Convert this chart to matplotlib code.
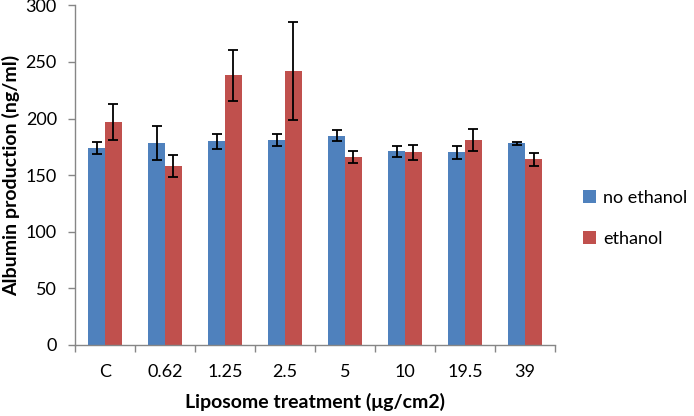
import numpy as np
import matplotlib.pyplot as plt
from matplotlib.ticker import MultipleLocator, FixedLocator

plt.rcParams['font.family'] = ['Lato', 'DejaVu Sans']

# data
categories = ['C', '0.62', '1.25', '2.5', '5', '10', '19.5', '39']
no_ethanol = [174, 178, 180, 181, 185, 171, 170, 178]
no_ethanol_err = [5, 15, 6.5, 5.5, 4.5, 4.7, 5.8, 1.2]
ethanol = [197, 158, 238, 242, 166, 170, 181, 164]
ethanol_err = [16, 9.5, 22.5, 43, 5.5, 6.3, 10, 5.6]

blue = '#4F81BD'
red = '#C0504D'
gray = '#868686'

fig = plt.figure(figsize=(6.94, 4.16), dpi=100)
ax = fig.add_axes([0.108, 0.1707, 0.692, 0.8166])

x = np.arange(len(categories))
w = 0.278
err_kw = dict(ecolor='black', elinewidth=1.3, capsize=3.5, capthick=1.3)
ax.bar(x - w / 2, no_ethanol, w, yerr=no_ethanol_err, color=blue,
       label='no ethanol', error_kw=err_kw)
ax.bar(x + w / 2, ethanol, w, yerr=ethanol_err, color=red,
       label='ethanol', error_kw=err_kw)

ax.set_xlim(-0.5, len(categories) - 0.5)
ax.set_ylim(0, 300)
ax.yaxis.set_major_locator(MultipleLocator(50))

# category labels centred, ticks on the boundaries
ax.set_xticks(x)
ax.set_xticklabels(categories, fontsize=13)
ax.tick_params(axis='x', which='major', length=0, pad=14)
ax.xaxis.set_minor_locator(FixedLocator(np.arange(-0.5, len(categories), 1)))
ax.tick_params(axis='x', which='minor', length=5, color=gray, width=1)
ax.tick_params(axis='y', length=5, color=gray, width=1, labelsize=13, pad=8)

for s in ['top', 'right']:
    ax.spines[s].set_visible(False)
for s in ['left', 'bottom']:
    ax.spines[s].set_color(gray)
    ax.spines[s].set_linewidth(1)

ax.set_xlabel('Liposome treatment (μg/cm2)', fontsize=14, fontweight='bold', labelpad=9)
ax.set_ylabel('Albumin production (ng/ml)', fontsize=14, fontweight='bold', labelpad=4)

fig.legend(loc='center left', bbox_to_anchor=(0.817, 0.475), frameon=False,
           fontsize=13, handlelength=0.7, handleheight=0.7, handletextpad=0.4,
           labelspacing=1.4)

fig.savefig('out.png', dpi=100)
